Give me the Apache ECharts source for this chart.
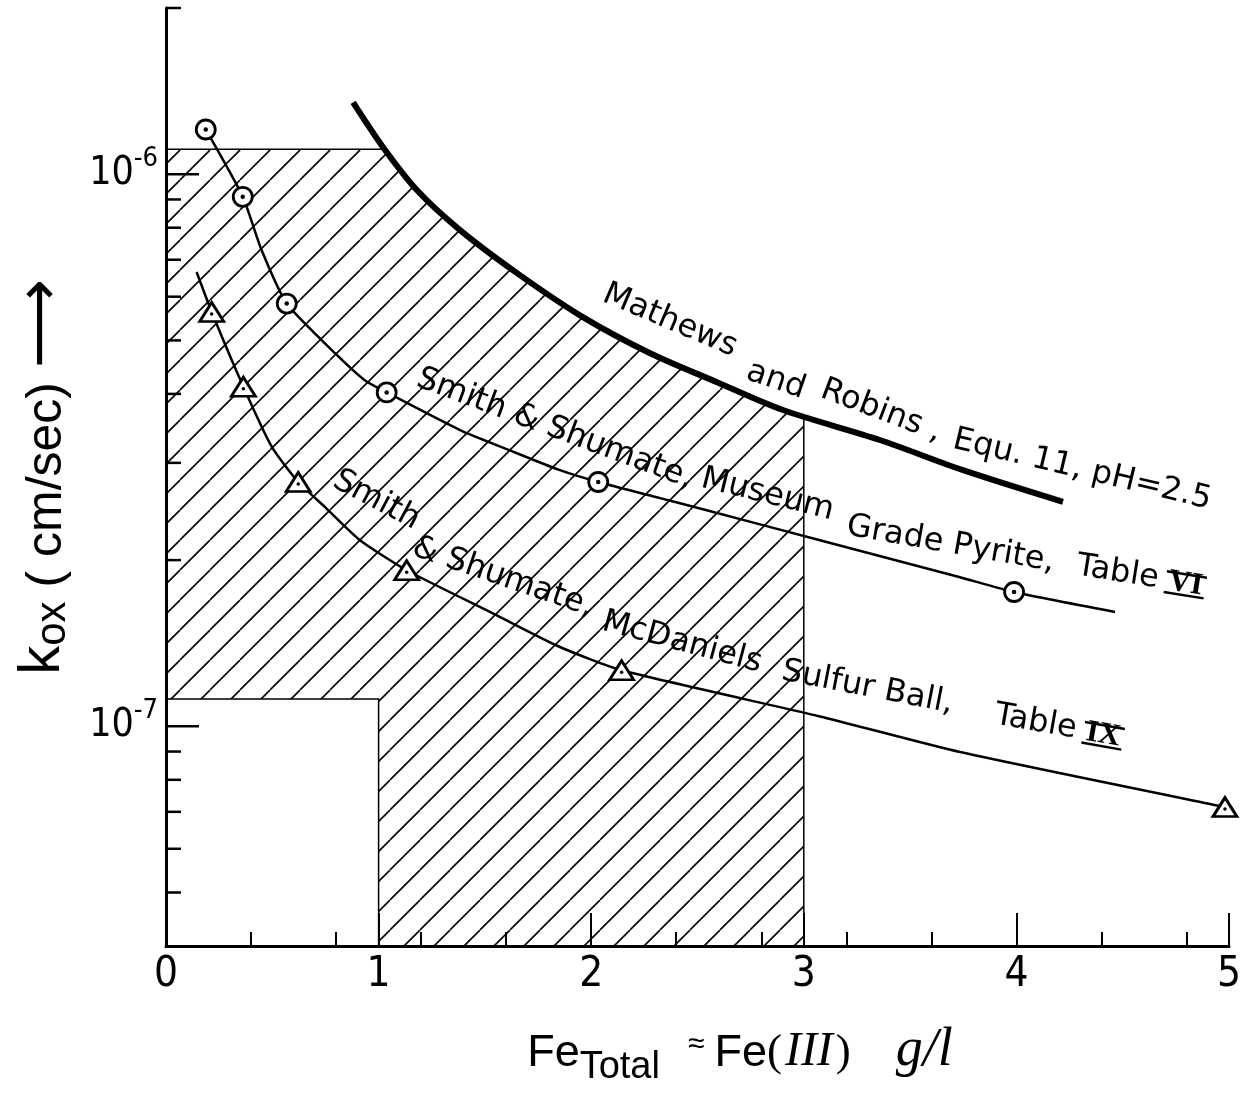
<!DOCTYPE html>
<html>
<head>
<meta charset="utf-8">
<script src="https://cdn.jsdelivr.net/npm/echarts@6.0.0/dist/echarts.min.js"></script>
<style>
html,body{margin:0;padding:0;background:#ffffff;}
#chart{width:1250px;height:1096px;}
</style>
</head>
<body>
<div id="chart"></div>
<script>
// ---------------- data ----------------
const xTickLabels = ['0', '1', '2', '3', '4', '5'];
const yMajorTicks = [1e-7, 1e-6];
const yMinorTicks = [5e-8, 6e-8, 7e-8, 8e-8, 9e-8, 2e-7, 3e-7, 4e-7, 5e-7, 6e-7, 7e-7, 8e-7, 9e-7, 2e-6];

// Mathews and Robins, Equ. 11, pH = 2.5 (thick curve)
const mathewsX = [0.880, 1.021, 1.181, 1.383, 1.651, 1.961, 2.277, 2.592, 2.902, 3.358, 3.749, 4.219];
const mathewsY = [1.349e-6, 1.119e-6, 9.35e-7, 7.92e-7, 6.62e-7, 5.51e-7, 4.74e-7, 4.20e-7, 3.74e-7, 3.30e-7, 2.91e-7, 2.55e-7];

// Smith & Shumate, Museum Grade Pyrite, Table VI
const pyriteLineX = [0.187, 0.361, 0.450, 0.568, 0.795, 0.936, 1.038, 1.383, 1.618, 1.853, 2.033, 2.324, 2.512, 3.076, 3.735, 3.989, 4.464];
const pyriteLineY = [1.205e-6, 9.10e-7, 7.28e-7, 5.83e-7, 4.74e-7, 4.23e-7, 4.025e-7, 3.44e-7, 3.16e-7, 2.91e-7, 2.77e-7, 2.59e-7, 2.48e-7, 2.173e-7, 1.862e-7, 1.751e-7, 1.611e-7];
const pyriteMarkX = [0.187, 0.361, 0.568, 1.038, 2.033, 3.989];
const pyriteMarkY = [1.205e-6, 9.10e-7, 5.83e-7, 4.025e-7, 2.77e-7, 1.751e-7];

// Smith & Shumate, McDaniels Sulfur Ball, Table IX
const sulfurLineX = [0.144, 0.215, 0.364, 0.497, 0.622, 0.748, 0.9125, 1.132, 1.540, 1.853, 2.143, 3.076, 3.735, 4.981, 5.075];
const sulfurLineY = [6.65e-7, 5.63e-7, 4.12e-7, 3.21e-7, 2.77e-7, 2.495e-7, 2.173e-7, 1.917e-7, 1.60e-7, 1.392e-7, 1.263e-7, 1.042e-7, 8.98e-8, 7.14e-8, 7.04e-8];
const sulfurMarkX = [0.215, 0.364, 0.622, 1.132, 2.143, 4.981];
const sulfurMarkY = [5.63e-7, 4.12e-7, 2.77e-7, 1.917e-7, 1.263e-7, 7.14e-8];

// hatched region outline
const hatchX = [0, 1.03, 1.181, 1.383, 1.651, 1.961, 2.277, 2.592, 2.902, 3, 3, 1, 1, 0];
const hatchY = [1.11e-6, 1.11e-6, 9.35e-7, 7.92e-7, 6.62e-7, 5.51e-7, 4.74e-7, 4.20e-7, 3.74e-7, 3.64e-7, 4e-8, 4e-8, 1.12e-7, 1.12e-7];

// ---------------- helpers ----------------
const pairs = (xs, ys) => xs.map((x, i) => [x, ys[i]]);
const NARROW = '"Liberation Sans Narrow","DejaVu Sans Condensed","Liberation Sans",sans-serif';
const ANN_FS = 32;
const ANN_FONT = ANN_FS + 'px "DejaVu Sans"';
const ROMAN_FONT = 'bold 31px "Liberation Serif"';

// hatch pattern
const pc = document.createElement('canvas');
pc.width = 30; pc.height = 30;
const pctx = pc.getContext('2d');
pctx.strokeStyle = '#000';
pctx.lineWidth = 1.6;
[-30, 0, 30].forEach(k => { pctx.beginPath(); pctx.moveTo(k, 30); pctx.lineTo(k + 30, 0); pctx.stroke(); });
const hatchPattern = { image: pc, repeat: 'repeat' };

const mctx = document.createElement('canvas').getContext('2d');
function textWidth(s, font) { mctx.font = font; return mctx.measureText(s).width; }

function txt(str, x, font, halo) {
  const st = { text: str, font: font, fill: '#000', textAlign: 'left', align: 'left',
               textVerticalAlign: 'bottom', verticalAlign: 'bottom' };
  if (halo) { st.stroke = '#fff'; st.lineWidth = 3; }
  return { type: 'text', x: x, y: 5, style: st };
}
function annot(str, x, y, deg) {
  return { type: 'group', x: x, y: y, rotation: -deg * Math.PI / 180,
           children: [txt(str, 0, ANN_FONT, true)] };
}
function annotRoman(str, roman, x, y, deg) {
  const w = textWidth(str + ' ', ANN_FONT);
  const rw = textWidth(roman, ROMAN_FONT);
  return {
    type: 'group', x: x, y: y, rotation: -deg * Math.PI / 180,
    children: [
      txt(str, 0, ANN_FONT, true),
      txt(roman, w, ROMAN_FONT, false),
      { type: 'line', shape: { x1: w - 3, y1: -20, x2: w + rw + 3, y2: -20 }, style: { stroke: '#000', lineWidth: 2.5 } },
      { type: 'line', shape: { x1: w - 3, y1: 1, x2: w + rw + 3, y2: 1 }, style: { stroke: '#000', lineWidth: 2.5 } }
    ]
  };
}

// ---------------- chart ----------------
const chart = echarts.init(document.getElementById('chart'), null, { renderer: 'canvas' });

const option = {
  animation: false,
  backgroundColor: '#ffffff',
  grid: { left: 166, right: 21, top: 8, bottom: 150, containLabel: false, outerBoundsMode: 'none' },
  xAxis: [
    {
      type: 'value', min: 0, max: 5, interval: 1, position: 'bottom', gridIndex: 0,
      axisLine: { show: true, onZero: false, lineStyle: { color: '#000', width: 3 } },
      axisTick: { show: true, inside: true, length: 33, lineStyle: { color: '#000', width: 2 } },
      axisLabel: { show: true, margin: 8, color: '#000', fontSize: 42, fontFamily: NARROW,
                   formatter: (v, i) => xTickLabels[i] !== undefined ? xTickLabels[i] : '' },
      splitLine: { show: false },
      name: '{F|Fe}{T|Total}{q|≈}{F|Fe}{p|(}{R|III}{p|)}{G|g/l}',
      nameLocation: 'middle', nameGap: 78, nameMoveOverlap: false,
      nameTextStyle: {
        color: '#000', padding: [0, 0, 0, 85],
        rich: {
          F: { fontSize: 45, fontFamily: 'Liberation Sans', verticalAlign: 'bottom', padding: [0, 0, 11, 0], color: '#000' },
          T: { fontSize: 38, fontFamily: 'Liberation Sans', verticalAlign: 'bottom', color: '#000' },
          q: { fontSize: 30, fontFamily: 'Liberation Sans', verticalAlign: 'bottom', padding: [0, 10, 27, 28], color: '#000' },
          p: { fontSize: 45, fontFamily: 'Liberation Serif', verticalAlign: 'bottom', padding: [0, 0, 11, 0], color: '#000' },
          R: { fontSize: 48, fontFamily: 'Liberation Serif', fontStyle: 'italic', verticalAlign: 'bottom', padding: [0, 3, 11, 3], color: '#000' },
          G: { fontSize: 54, fontFamily: 'Liberation Serif', fontStyle: 'italic', verticalAlign: 'bottom', padding: [0, 0, 9, 45], color: '#000' }
        }
      }
    },
    {
      type: 'value', min: 0, max: 5, interval: 0.4, position: 'bottom', gridIndex: 0,
      axisLine: { show: false, onZero: false },
      axisTick: { show: true, inside: true, length: 14, lineStyle: { color: '#000', width: 2 } },
      axisLabel: { show: false },
      splitLine: { show: false }
    }
  ],
  yAxis: {
    type: 'log', logBase: 10, min: 4e-8, max: 2e-6,
    axisLine: { show: true, onZero: false, lineStyle: { color: '#000', width: 3 } },
    axisTick: { show: false },
    splitLine: { show: false },
    axisLabel: {
      show: true, margin: 8, color: '#000', showMinLabel: false, showMaxLabel: false,
      formatter: function (v) {
        const e = Math.log10(v); const r = Math.round(e);
        if (Math.abs(e - r) > 1e-6) return '';
        return '{b|10}{s|' + r + '}';
      },
      rich: {
        b: { fontSize: 39, fontFamily: NARROW, color: '#000' },
        s: { fontSize: 27, fontFamily: NARROW, color: '#000', padding: [0, 0, 30, 0] }
      }
    },
    name: '{k|k}{o|ox}{t| ( cm/sec) }{a|⟶}',
    nameLocation: 'middle', nameRotate: 90, nameGap: 92, nameMoveOverlap: false,
    nameTextStyle: {
      color: '#000',
      rich: {
        k: { fontSize: 58, fontFamily: 'Liberation Sans', verticalAlign: 'bottom', padding: [0, 0, 2, 0], color: '#000' },
        o: { fontSize: 42, fontFamily: 'Liberation Sans', verticalAlign: 'bottom', color: '#000' },
        t: { fontSize: 50, fontFamily: 'Liberation Sans', verticalAlign: 'bottom', padding: [0, 0, 2, 0], color: '#000' },
        a: { fontSize: 62, fontFamily: 'DejaVu Sans', verticalAlign: 'bottom', padding: [0, 0, 0, 0], color: '#000' }
      }
    }
  },
  series: [
    {
      name: 'Region', type: 'custom', xAxisIndex: 0, yAxisIndex: 0, z: 1, silent: true, clip: false,
      data: [[1, 1e-7]],
      renderItem: function (params, api) {
        const pts = hatchX.map((x, i) => api.coord([x, hatchY[i]]));
        return { type: 'polygon', shape: { points: pts },
                 style: { fill: hatchPattern, stroke: '#000', lineWidth: 1.5 } };
      }
    },
    {
      name: 'Mathews and Robins, Equ. 11, pH=2.5', type: 'line', xAxisIndex: 0, z: 3,
      data: pairs(mathewsX, mathewsY), smooth: 0.3, showSymbol: false, symbol: 'none', silent: true,
      lineStyle: { color: '#000', width: 6 }
    },
    {
      name: 'Museum Grade Pyrite curve', type: 'line', xAxisIndex: 0, z: 3,
      data: pairs(pyriteLineX, pyriteLineY), smooth: 0.2, showSymbol: false, symbol: 'none', silent: true,
      lineStyle: { color: '#000', width: 2.5 }
    },
    {
      name: 'McDaniels Sulfur Ball curve', type: 'line', xAxisIndex: 0, z: 3, clip: false,
      data: pairs(sulfurLineX, sulfurLineY), smooth: 0.2, showSymbol: false, symbol: 'none', silent: true,
      lineStyle: { color: '#000', width: 2.5 }
    },
    {
      name: 'Museum Grade Pyrite, Table VI', type: 'scatter', xAxisIndex: 0, z: 4, clip: false,
      data: pairs(pyriteMarkX, pyriteMarkY), symbol: 'circle', symbolSize: 19,
      itemStyle: { color: '#fff', borderColor: '#000', borderWidth: 2.8, opacity: 1 }
    },
    {
      name: 'pyrite dots', type: 'scatter', xAxisIndex: 0, z: 5, clip: false, silent: true,
      data: pairs(pyriteMarkX, pyriteMarkY), symbol: 'circle', symbolSize: 4.5,
      itemStyle: { color: '#000', opacity: 1 }
    },
    {
      name: 'McDaniels Sulfur Ball, Table IX', type: 'scatter', xAxisIndex: 0, z: 4, clip: false,
      data: pairs(sulfurMarkX, sulfurMarkY), symbol: 'triangle', symbolSize: [24, 19],
      itemStyle: { color: '#fff', borderColor: '#000', borderWidth: 2.8, opacity: 1 }
    },
    {
      name: 'sulfur dots', type: 'scatter', xAxisIndex: 0, z: 5, clip: false, silent: true,
      data: pairs(sulfurMarkX, sulfurMarkY), symbol: 'circle', symbolSize: 3.5, symbolOffset: [0, 2],
      itemStyle: { color: '#000', opacity: 1 }
    },
    {
      name: 'y minor ticks', type: 'scatter', xAxisIndex: 0, z: 6, clip: false, silent: true,
      data: yMinorTicks.map(v => [0, v]), symbol: 'rect', symbolSize: [15, 2.5], symbolOffset: [7.5, 0],
      itemStyle: { color: '#000', opacity: 1 }
    },
    {
      name: 'y major ticks', type: 'scatter', xAxisIndex: 0, z: 6, clip: false, silent: true,
      data: yMajorTicks.map(v => [0, v]), symbol: 'rect', symbolSize: [33, 2.5], symbolOffset: [16.5, 0],
      itemStyle: { color: '#000', opacity: 1 }
    }
  ],
  graphic: {
    elements: [
      annot('Mathews', 600, 303, 23),
      annot('and', 744, 381, 19),
      annot('Robins ,', 818, 399, 20.7),
      annot('Equ. 11, pH=2.5', 951, 450, 13.4),

      annot('Smith & Shumate,', 414, 388, 20.5),
      annot('Museum', 699, 489, 14),
      annot('Grade Pyrite,', 845, 537, 10),
      annotRoman('Table', 'VI', 1075, 577, 9),

      annot('Smith', 330, 488, 28),
      annot('& Shumate,', 410, 557, 19),
      annot('McDaniels', 600, 632, 15),
      annot('Sulfur Ball,', 780, 682, 11),
      annotRoman('Table', 'IX', 993, 726, 10)
    ].map(e => Object.assign(e, { z: 100 }))
  }
};

chart.setOption(option);
</script>
</body>
</html>
